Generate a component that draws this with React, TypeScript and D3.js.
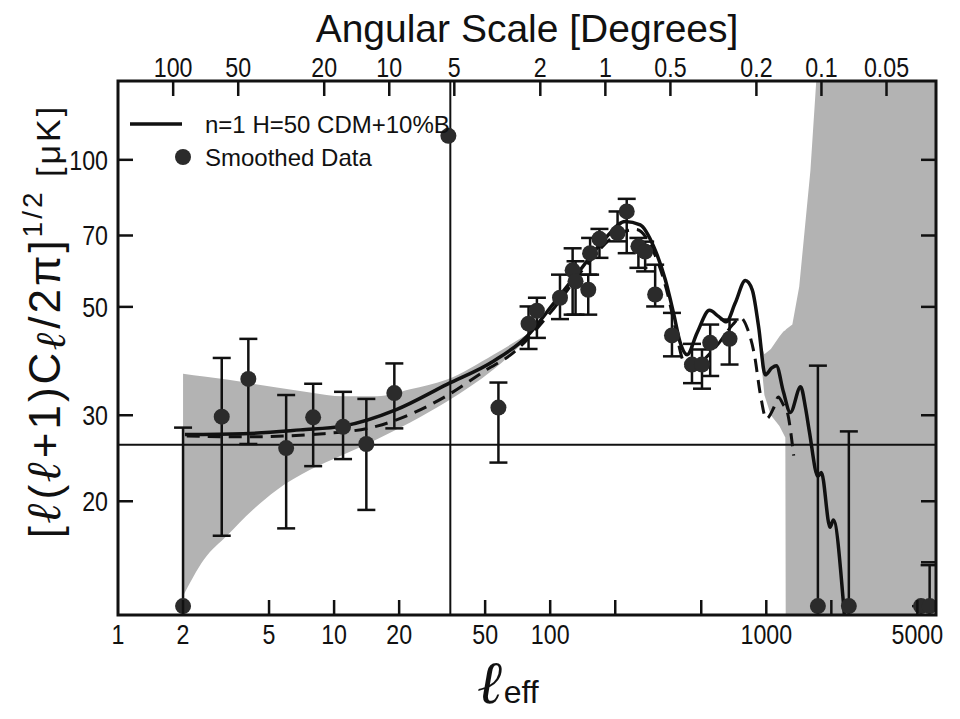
import * as d3 from "d3";

const W = 960;
const H = 719;

// smoothed band-power data
const ellEff = [2, 3.02, 4.01, 6, 8, 11, 14.1, 19, 33.8, 57.6, 79.4, 86.8, 111, 127, 131, 150, 153, 169, 205, 226, 256, 275, 306, 366, 453, 504, 550, 676, 1733, 2410, 5200, 5700];
const deltaT = [12.2, 29.8, 35.6, 25.7, 29.7, 28.4, 26.2, 33.3, 112, 31.1, 46.2, 49.1, 52.2, 59.4, 56.4, 54.2, 64.4, 68.9, 70.8, 78.4, 66.5, 64.9, 53.0, 43.7, 38.1, 38.1, 42.2, 43.0, 12.2, 12.2, 12.2, 12.2];
const errUp = [28.3, 39.3, 43.0, 33.0, 34.8, 33.5, 32.4, 38.3, 112, 35.0, 50.1, 52.2, 58.2, 65.9, 62, 58.2, 69.2, 72.2, 78.4, 83.2, 69.2, 68, 61.0, 48.6, 42.0, 40.9, 46.0, 47.1, 37.9, 27.8, 12.2, 14.8];
const errDown = [5, 17.0, 26.2, 17.6, 23.6, 24.4, 19.2, 28.2, 112, 24.0, 41.0, 43.2, 47.2, 48.2, 48.2, 48.2, 58.2, 63.0, 68.1, 64.4, 60.1, 59.1, 50.1, 39.6, 34.9, 34.0, 36.1, 38.1, 5, 5, 5, 5];

// n=1 H=50 CDM+10%B model (solid)
const modelEll = [2.04, 3.8, 7, 11, 19.4, 33.3, 54.6, 78, 104, 138, 183, 222, 261, 301, 341, 372, 400, 430, 478, 546, 601, 653, 718, 800, 861, 921, 989, 1060, 1113, 1200, 1292, 1442, 1520, 1582, 1734, 1798, 1973, 2043, 2281, 2400];
const modelPower = [27.4, 27.5, 28.0, 28.5, 30.8, 34.7, 38.7, 43.5, 50.9, 59.6, 69.7, 74.8, 73.6, 66.5, 56.8, 48.6, 42.2, 39.9, 44.2, 49.2, 47.8, 46.6, 50.9, 56.6, 54.2, 45.6, 36.3, 37.5, 37.9, 33.5, 30.4, 34.3, 31, 27.8, 22.5, 22.9, 17.7, 18.3, 12.2, 9];

// second model (dashed)
const dashEll = [2.08, 3.8, 8.9, 15.8, 32.1, 50.9, 67.6, 100, 150, 200, 250, 300, 350, 380, 410, 450, 500, 600, 700, 760, 820, 880, 940, 1000, 1080, 1137, 1200, 1245, 1339];
const dashPower = [27.2, 27.1, 27.5, 28.5, 32.6, 37.2, 40.3, 48.6, 61.5, 70, 72, 65, 53, 45, 39, 37, 38.5, 42, 46, 47.5, 45, 40, 33, 29.5, 31, 32.7, 31.5, 30.7, 24.8];

// gray band, low-l part
const bandLowEll = [2.0, 2.5, 3.19, 4.2, 5.43, 7.74, 11, 15.8, 22.5, 33.3, 54.6, 78];
const bandLowMin = [12.8, 15.2, 17.0, 19.2, 21.1, 23.2, 24.9, 26.8, 29.0, 32.0, 37.2, 42.9];
const bandLowMax = [36.5, 36.0, 35.5, 34.8, 34.2, 33.4, 32.8, 32.8, 33.9, 35.5, 39.9, 43.9];

// gray band, high-l part
const bandHighEll = [940, 980, 1050, 1150, 1200, 1225, 1235, 1320, 1420, 1524, 1600, 1703, 1800, 6100];
const bandHighMin = [40, 33, 30, 28.5, 27.5, 27, 5, 5, 5, 5, 5, 5, 5, 5];
const bandHighMax = [42, 40, 41, 43.5, 44.5, 44.8, 45, 46, 55, 76, 95, 145, 200, 200];

const xTicks = [2, 5, 10, 20, 50, 100, 200, 500, 1000, 2000, 5000];
const xLabels = [1, 2, 5, 10, 20, 50, 100, 1000, 5000];
const degTicks = [100, 50, 20, 10, 5, 2, 1, 0.5, 0.2, 0.1, 0.05];
const yTicks = [20, 30, 50, 70, 100];
const yTicksRight = [15, 20, 30, 50, 70, 100];

const flatLine = 26.1;
const wallEll = 34.5;

const font = "'Liberation Sans', Arial, Helvetica, sans-serif";
const script = "'DejaVu Serif', serif";

// narrow-looking tick label
const Label = ({ x, y, anchor, children }: { x: number; y: number; anchor: string; children: any }) => (
  <text transform={`translate(${x},${y}) scale(0.86,1)`} fontSize={27} textAnchor={anchor} fill="#111">
    {children}
  </text>
);

export default function App() {
  const x = d3.scaleLog().domain([1, 6100]).range([118, 936]);
  const y = d3.scaleLog().domain([11.7, 145]).range([615, 81]);
  const [x0, x1] = x.range();
  const [y0, y1] = y.range();

  const modelPath = d3.line<number>().x((d) => x(d)).y((_, i) => y(modelPower[i])).curve(d3.curveMonotoneX)(modelEll);
  const dashPath = d3.line<number>().x((d) => x(d)).y((_, i) => y(dashPower[i])).curve(d3.curveMonotoneX)(dashEll);
  const bandLow = d3.area<number>().x((d) => x(d)).y0((_, i) => y(bandLowMin[i])).y1((_, i) => y(bandLowMax[i])).curve(d3.curveMonotoneX)(bandLowEll);
  const bandHigh = d3.area<number>().x((d) => x(d)).y0((_, i) => y(bandHighMin[i])).y1((_, i) => y(bandHighMax[i]))(bandHighEll);

  const ell = (size: number, dy = 0) => (
    <tspan fontStyle="italic" fontWeight="bold" fontFamily={script} fontSize={size} dy={dy}>ℓ</tspan>
  );

  return (
    <svg width={W} height={H} style={{ position: "absolute", left: 0, top: 0, background: "#fff" }} fontFamily={font}>
      <defs>
        <clipPath id="plot">
          <rect x={x0} y={y1} width={x1 - x0} height={y0 - y1} />
        </clipPath>
      </defs>

      <g clipPath="url(#plot)">
        <path d={bandLow ?? ""} fill="#b3b3b3" />
        <path d={bandHigh ?? ""} fill="#b3b3b3" />
        <line x1={x0} x2={x1} y1={y(flatLine)} y2={y(flatLine)} stroke="#111" strokeWidth={2} />
        <line x1={x(wallEll)} x2={x(wallEll)} y1={y1} y2={y0} stroke="#111" strokeWidth={2} />
        <path d={dashPath ?? ""} fill="none" stroke="#111" strokeWidth={3} strokeDasharray="13,8" />
        <path d={modelPath ?? ""} fill="none" stroke="#111" strokeWidth={3.5} strokeLinejoin="round" />
        {ellEff.map((l, i) =>
          errUp[i] === errDown[i] ? null : (
            <g key={"e" + i} stroke="#111" strokeWidth={2.5}>
              <line x1={x(l)} x2={x(l)} y1={y(errUp[i])} y2={y(errDown[i])} />
              <line x1={x(l) - 9} x2={x(l) + 9} y1={y(errUp[i])} y2={y(errUp[i])} />
              <line x1={x(l) - 9} x2={x(l) + 9} y1={y(errDown[i])} y2={y(errDown[i])} />
            </g>
          )
        )}
        {ellEff.map((l, i) => (
          <circle key={"p" + i} cx={x(l)} cy={y(deltaT[i])} r={8} fill="#2b2b2b" />
        ))}
      </g>

      {/* frame */}
      <rect x={x0} y={y1} width={x1 - x0} height={y0 - y1} fill="none" stroke="#111" strokeWidth={3} />

      {/* bottom axis */}
      {xTicks.map((t) => (
        <line key={"bt" + t} x1={x(t)} x2={x(t)} y1={y0} y2={y0 - 15} stroke="#111" strokeWidth={2.5} />
      ))}
      {xLabels.map((t) => (
        <Label key={"bl" + t} x={x(t)} y={644} anchor="middle">{t}</Label>
      ))}

      {/* top axis, angular scale */}
      {degTicks.map((t) => (
        <g key={"tt" + t}>
          <line x1={x(180 / t)} x2={x(180 / t)} y1={y1} y2={y1 + 15} stroke="#111" strokeWidth={2.5} />
          <Label x={x(180 / t)} y={77} anchor="middle">{t}</Label>
        </g>
      ))}
      <text x={527} y={42} fontSize={39} textAnchor="middle" fill="#111">Angular Scale [Degrees]</text>

      {/* left / right axis */}
      {yTicks.map((t) => (
        <g key={"yl" + t}>
          <line x1={x0} x2={x0 + 15} y1={y(t)} y2={y(t)} stroke="#111" strokeWidth={2.5} />
          <Label x={108} y={y(t) + 10} anchor="end">{t}</Label>
        </g>
      ))}
      {yTicksRight.map((t) => (
        <line key={"yr" + t} x1={x1} x2={x1 - 15} y1={y(t)} y2={y(t)} stroke="#111" strokeWidth={2.5} />
      ))}

      {/* legend */}
      <line x1={130} x2={182} y1={124} y2={124} stroke="#111" strokeWidth={3.5} />
      <text x={205} y={133} fontSize={24} fill="#111">n=1 H=50 CDM+10%B</text>
      <circle cx={183} cy={157} r={8} fill="#2b2b2b" />
      <text x={205} y={166} fontSize={24} fill="#111">Smoothed Data</text>

      {/* axis titles */}
      <text transform="translate(60,321) rotate(-90)" fontSize={44} letterSpacing={3} textAnchor="middle" fill="#111">
        [{ell(48)}({ell(48)}+1)C{ell(42, 5)}<tspan dy={-5}>/2π]</tspan>
        <tspan fontSize={28} dy={-18}>1/2</tspan>
        <tspan fontSize={34} dy={18}> [μK]</tspan>
      </text>
      <text x={478} y={703} fill="#111">
        <tspan fontSize={60} fontStyle="italic" fontWeight="bold" fontFamily={script}>ℓ</tspan>
        <tspan fontSize={32}>eff</tspan>
      </text>
    </svg>
  );
}
